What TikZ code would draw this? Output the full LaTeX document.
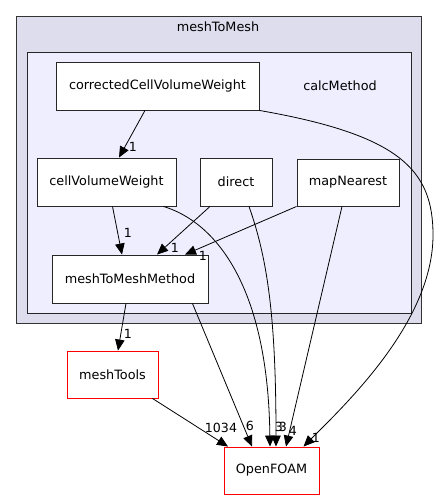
\documentclass[tikz,border=0pt]{standalone}
\usepackage{fontspec}
\setmainfont{DejaVu Sans}
\usetikzlibrary{arrows.meta}
\definecolor{outerfill}{HTML}{DDDDEE}
\definecolor{innerfill}{HTML}{EEEEFF}
\begin{document}
\begin{tikzpicture}[x=1pt,y=-1pt,
    dirbox/.style={draw=black!85, fill=white, line width=0.9pt, inner sep=0pt,
      minimum height=48pt, font=\fontsize{12.8}{15}\selectfont},
    extbox/.style={dirbox, draw=red},
    edge/.style={draw=black, line width=0.8pt, -{Triangle[length=11pt,width=9.5pt]}},
    lab/.style={inner sep=0pt, font=\fontsize{12.6}{14}\selectfont}]
  \useasboundingbox (0,0) rectangle (439,500);
  \draw[fill=outerfill, draw=black!80, line width=0.9pt] (16,16) rectangle (421,323);
  \node[lab, font=\fontsize{12.8}{15}\selectfont] (outerlab) at (218,27) {meshToMesh};
  \draw[fill=innerfill, draw=black!85, line width=0.9pt] (27,52) rectangle (411,313);
  \node[lab, font=\fontsize{12.8}{15}\selectfont] (innerlab) at (340,86) {calcMethod};

  \node[dirbox, minimum width=203pt] (ccvw) at (157.5,86) {correctedCellVolumeWeight};
  \node[dirbox, minimum width=139pt] (cvw) at (106.5,182) {cellVolumeWeight};
  \node[dirbox, minimum width=72pt] (direct) at (236,182) {direct};
  \node[dirbox, minimum width=102pt, minimum height=47pt] (mapNearest) at (348,182.5) {mapNearest};
  \node[dirbox, minimum width=156pt] (mtmm) at (130,279) {meshToMeshMethod};
  \node[extbox, minimum width=91pt, minimum height=47pt] (meshTools) at (112.5,374.5) {meshTools};
  \node[extbox, minimum width=95pt, minimum height=47pt] (OpenFOAM) at (271.5,470.5) {OpenFOAM};

  \draw[edge] ([xshift=-12.5pt]ccvw.south) -- ([xshift=12.5pt]cvw.north);
  \draw[edge] (ccvw.south east) .. controls (400,135) and (433,170) .. (433,235)
    .. controls (433,320) and (350,400) .. ([xshift=32pt]OpenFOAM.north);
  \draw[edge] ([xshift=6pt]cvw.south) -- ([xshift=-8pt]mtmm.north);
  \draw[edge] ([xshift=-13pt]cvw.south east) .. controls (215,222) and (268,285) .. ([xshift=-1.5pt]OpenFOAM.north);
  \draw[edge] ([xshift=-26pt]direct.south) -- ([xshift=27pt]mtmm.north);
  \draw[edge] ([xshift=13pt]direct.south) .. controls (268,260) and (276,320) .. ([xshift=4.5pt]OpenFOAM.north);
  \draw[edge] (mapNearest.south west) -- ([xshift=55pt]mtmm.north);
  \draw[edge] ([xshift=-6pt]mapNearest.south) -- ([xshift=14.5pt]OpenFOAM.north);
  \draw[edge] ([xshift=-4pt]mtmm.south) -- ([xshift=5.5pt]meshTools.north);
  \draw[edge] ([xshift=-16pt]mtmm.south east) -- ([xshift=-19.5pt]OpenFOAM.north);
  \draw[edge] ([xshift=-6pt]meshTools.south east) -- ([xshift=-43.5pt]OpenFOAM.north);

  \node[lab] (l1) at (133,147) {1};
  \node[lab] (l2) at (128,233) {1};
  \node[lab] (l3) at (175,248) {1};
  \node[lab] (l4) at (203,256) {1};
  \node[lab] (l5) at (128,334) {1};
  \node[lab] (l6) at (221,428) {1034};
  \node[lab] (l7) at (250,426) {6};
  \node[lab] (l8) at (279,427) {3};
  \node[lab] (l9) at (283,427) {3};
  \node[lab] (l10) at (293,431) {4};
  \node[lab] (l11) at (316,438) {1};
\end{tikzpicture}
\end{document}
